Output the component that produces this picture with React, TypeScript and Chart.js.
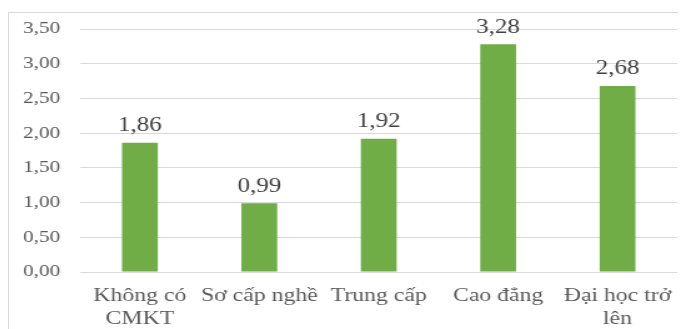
import React, { useEffect, useRef } from "react";
import { Chart, registerables } from "chart.js";

Chart.register(...registerables);

const categories: (string | string[])[] = [
  ["Không có", "CMKT"],
  "Sơ cấp nghề",
  "Trung cấp",
  "Cao đẳng",
  ["Đại học trở", "lên"],
];
const values: number[] = [1.86, 0.99, 1.92, 3.28, 2.68];
const yTicks: number[] = [0, 0.5, 1, 1.5, 2, 2.5, 3, 3.5];

const fmt = (v: number) => v.toFixed(2).replace(".", ",");

const SERIF = "'Liberation Serif', 'Times New Roman', serif";

// The drawing surface is laid out narrower and widened with CSS,
// which gives the text its broad, stretched look.
const CSS_W = 677;
const CSS_H = 316;
const STRETCH = 1.25;
const CANVAS_W = Math.round(CSS_W / STRETCH);

const valueLabels = {
  id: "valueLabels",
  afterDatasetsDraw(chart: any) {
    const ctx = chart.ctx;
    const meta = chart.getDatasetMeta(0);
    ctx.save();
    ctx.font = `20px ${SERIF}`;
    ctx.fillStyle = "#404040";
    ctx.textAlign = "center";
    ctx.textBaseline = "bottom";
    meta.data.forEach((bar: any, i: number) => {
      ctx.fillText(fmt(values[i]), bar.x, bar.y - 7);
    });
    ctx.restore();
  },
};

export default function App() {
  const ref = useRef<HTMLCanvasElement | null>(null);

  useEffect(() => {
    if (!ref.current) return;
    const chart = new Chart(ref.current, {
      type: "bar",
      data: {
        labels: categories,
        datasets: [
          {
            data: values,
            backgroundColor: "#70AD47",
            categoryPercentage: 1,
            barPercentage: 0.3,
          },
        ],
      },
      options: {
        animation: false,
        responsive: false,
        maintainAspectRatio: false,
        devicePixelRatio: 1,
        layout: { padding: { top: 16, right: 7, left: 0, bottom: 0 } },
        plugins: { legend: { display: false }, tooltip: { enabled: false } },
        scales: {
          x: {
            grid: { display: false, drawTicks: false },
            border: { display: false },
            ticks: {
              font: { family: SERIF, size: 19 },
              color: "#595959",
              maxRotation: 0,
              autoSkip: false,
              padding: 13,
            },
            afterFit(scale: any) {
              scale.height = 57;
              scale.paddingLeft = 0;
              scale.paddingRight = 0;
            },
          },
          y: {
            min: 0,
            max: 3.5,
            afterBuildTicks(scale: any) {
              scale.ticks = yTicks.map((v) => ({ value: v }));
            },
            grid: { color: "#d9d9d9", drawTicks: false, lineWidth: 1 },
            border: { display: false },
            ticks: {
              font: { family: SERIF, size: 17 },
              color: "#595959",
              padding: 16,
              callback: (v: any) => fmt(Number(v)),
            },
            afterFit(scale: any) {
              scale.width = 57;
              scale.paddingTop = 0;
              scale.paddingBottom = 0;
            },
          },
        },
      },
      plugins: [valueLabels],
    });
    return () => chart.destroy();
  }, []);

  return (
    <div
      style={{
        marginTop: 4,
        borderTop: "1px solid #d9d9d9",
        borderLeft: "1px solid #d9d9d9",
        width: CSS_W,
        height: CSS_H,
      }}
    >
      <canvas
        ref={ref}
        width={CANVAS_W}
        height={CSS_H}
        style={{ display: "block", width: CSS_W, height: CSS_H }}
      />
    </div>
  );
}
